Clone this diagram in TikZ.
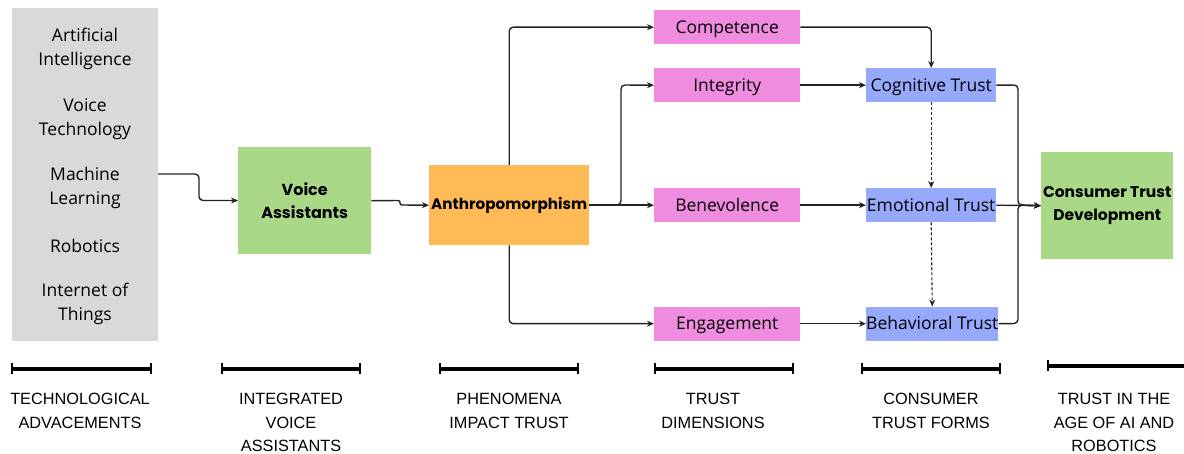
\documentclass[tikz,border=0pt]{standalone}
\usepackage{fontspec}
\setmainfont{Open Sans}
\newfontfamily\boldfont{Poppins}
\newfontfamily\labelfont{Liberation Sans}
\usetikzlibrary{arrows.meta}
\definecolor{graybox}{HTML}{D9D9D9}
\definecolor{greenbox}{HTML}{A9D886}
\definecolor{orangebox}{HTML}{FFB955}
\definecolor{pinkbox}{HTML}{F08CE0}
\definecolor{bluebox}{HTML}{97A9FB}
\definecolor{linecol}{HTML}{222222}
\tikzset{
  x=1pt, y=-1pt,
  boxbase/.style={draw=none, inner sep=0pt, align=center, anchor=north west},
  boxfont/.style={font=\fontsize{17.5}{24}\selectfont},
  pinkstyle/.style={boxbase, boxfont, fill=pinkbox, minimum width=146pt, minimum height=34pt, text height=16pt, text depth=4pt},
  bluestyle/.style={boxbase, boxfont, fill=bluebox, minimum width=130pt, minimum height=34pt, text height=16pt, text depth=4pt},
  listitem/.style={boxfont, align=center, inner sep=0pt},
  conn/.style={draw=linecol, line width=1.4pt, rounded corners=4pt, -{Stealth[length=7pt,width=6pt]}},
  dashconn/.style={conn, line width=1.1pt, dash pattern=on 3pt off 2pt},
  bar/.style={draw=black, line width=3.2pt},
  tick/.style={draw=black, line width=2.4pt},
  caption/.style={align=center, font=\labelfont\fontsize{16.3}{23.5}\selectfont, anchor=north}
}
\begin{document}
\begin{tikzpicture}
\useasboundingbox (0,0) rectangle (1184,454);
% boxes
\node[boxbase, fill=graybox, minimum width=146pt, minimum height=333pt] (tech) at (12,8) {};
\node[listitem] (ai) at (85,49) {Artificial\\Intelligence};
\node[listitem] (vt) at (85,119) {Voice\\Technology};
\node[listitem] (ml) at (85,188) {Machine\\Learning};
\node[listitem] (rob) at (85,245.5) {Robotics};
\node[listitem] (iot) at (85,304) {Internet of\\Things};

\node[boxbase, fill=greenbox, minimum width=133pt, minimum height=107pt, font=\boldfont\bfseries\fontsize{16}{23.5}\selectfont] (va) at (238,147) {Voice\\Assistants};
\node[boxbase, fill=orangebox, minimum width=160pt, minimum height=80pt, font=\boldfont\bfseries\fontsize{15.2}{18}\selectfont] (anth) at (429,165) {Anthropomorphism};

\node[pinkstyle] (comp) at (654,10) {Competence};
\node[pinkstyle] (integ) at (654,68) {Integrity};
\node[pinkstyle] (bene) at (654,188) {Benevolence};
\node[pinkstyle] (eng) at (654,306.5) {Engagement};

\node[bluestyle] (cog) at (866,68) {Cognitive Trust};
\node[bluestyle] (emo) at (866,188) {Emotional Trust};
\node[bluestyle] (beh) at (866,306.5) {Behavioral Trust};

\node[boxbase, fill=greenbox, minimum width=132pt, minimum height=107pt, font=\boldfont\bfseries\fontsize{15.5}{23.5}\selectfont] (ctd) at (1041,152) {Consumer Trust\\Development};

% connectors
\coordinate (mlout) at (158,174);
\draw[conn] (mlout) -- (199,174) -- (199,200.5) -- (va.west |- 0,200.5);
\draw[conn, rounded corners=2pt] (va.east) -- (400,200.5) -- (400,205) -- (anth.west);
\draw[conn] (anth.north) -- (anth.north |- comp.west) -- (comp.west);
\draw[conn] (anth.south) -- (anth.south |- eng.west) -- (eng.west);
\draw[conn] (anth.east) -- (bene.west);
\draw[conn] (anth.east) -- (621,205) -- (621,85) -- (integ.west);
\draw[conn] (comp.east) -- (cog.north |- comp.east) -- (cog.north);
\draw[conn] (integ.east) -- (cog.west);
\draw[conn] (bene.east) -- (emo.west);
\draw[conn] (eng.east) -- (beh.west);
\draw[dashconn] (cog.south) -- (emo.north);
\draw[dashconn] (emo.south) -- (beh.north);
\draw[conn] (cog.east) -- (1018,85) -- (1018,205) -- (ctd.west);
\draw[conn] (beh.east) -- (1018,323.5) -- (1018,205) -- (ctd.west);
\draw[conn] (emo.east) -- (ctd.west);

% scale bars
\foreach \a/\b in {12/151, 222/360, 440/578, 655/793, 862/1000}{
  \draw[bar] (\a,369) -- (\b,369);
  \draw[tick] (\a,363.5) -- (\a,374.5);
  \draw[tick] (\b,363.5) -- (\b,374.5);
}
\draw[bar] (1048,366) -- (1184,366);
\draw[tick] (1048,360.5) -- (1048,371.5);

\node[caption] (c1) at (80,390) {TECHNOLOGICAL\\ADVACEMENTS};
\node[caption] (c2) at (291,390) {INTEGRATED\\VOICE\\ASSISTANTS};
\node[caption] (c3) at (509,390) {PHENOMENA\\IMPACT TRUST};
\node[caption] (c4) at (713,390) {TRUST\\DIMENSIONS};
\node[caption] (c5) at (931,390) {CONSUMER\\TRUST FORMS};
\node[caption] (c6) at (1114,390) {TRUST IN THE\\AGE OF AI AND\\ROBOTICS};
\end{tikzpicture}
\end{document}
